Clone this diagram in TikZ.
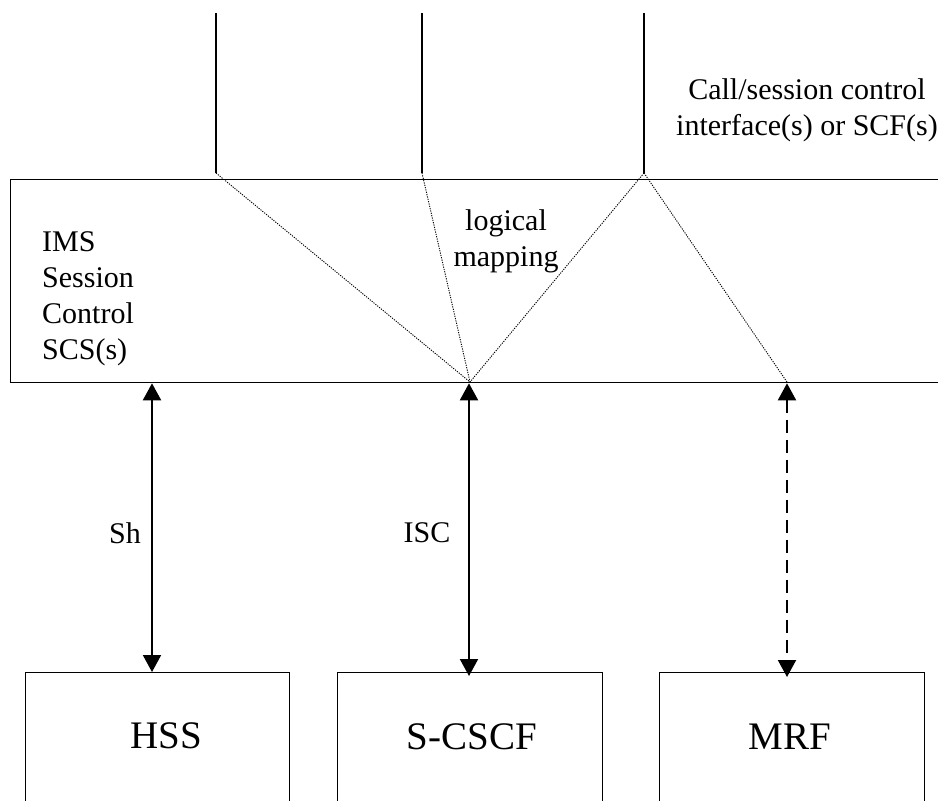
\documentclass[tikz,border=0pt]{standalone}
\usepackage{fontspec}
\setmainfont{Liberation Serif}
\usetikzlibrary{arrows.meta}
\begin{document}
\begin{tikzpicture}[x=1pt,y=-1pt,
  frame/.style={draw, line width=1.3pt, inner sep=0pt},
  txt/.style={inner sep=0pt, font=\fontsize{30}{36}\selectfont},
  bigtxt/.style={inner sep=0pt, font=\fontsize{39}{44}\selectfont},
  vline/.style={line width=1.5pt},
  mapline/.style={line width=0.9pt, dash pattern=on 1.2pt off 1.2pt},
  arr/.style={line width=2pt, {Triangle[length=17pt,width=18pt]}-{Triangle[length=17pt,width=18pt]}},
  darr/.style={arr, dash pattern=on 13pt off 7pt}]
\useasboundingbox (0,0) rectangle (938,801);
\clip (0,0) rectangle (938,801);

% main IMS box (extends past right edge)
\node[frame, anchor=north west, minimum width=960pt, minimum height=203pt] (scs) at (10,179) {};
\node[txt, anchor=west, align=left] (scstxt) at (42,299) {IMS\\Session\\Control\\SCS(s)};
\node[txt, align=center] (maptxt) at (506,241) {logical\\mapping};
\node[txt, align=center] (cstxt) at (807,110) {Call/session control\\interface(s) or SCF(s)};

% bottom boxes (extend past bottom edge)
\node[frame, anchor=north west, minimum width=264pt, minimum height=200pt] (hss) at (25,672) {};
\node[frame, anchor=north west, minimum width=265pt, minimum height=200pt] (scscf) at (337,672) {};
\node[frame, anchor=north west, minimum width=265pt, minimum height=200pt] (mrf) at (659,672) {};
\node[bigtxt] (hsstxt) at (166,736) {HSS};
\node[bigtxt] (scscftxt) at (472,737) {S-CSCF};
\node[bigtxt] (mrftxt) at (790,737) {MRF};

% top interface lines
\coordinate (t1a) at (216,13); \coordinate (t1b) at (216,173);
\coordinate (t2a) at (422,13); \coordinate (t2b) at (422,173);
\coordinate (t3a) at (644,13); \coordinate (t3b) at (644,173);
\draw[vline] (t1a) -- (t1b);
\draw[vline] (t2a) -- (t2b);
\draw[vline] (t3a) -- (t3b);

% logical mapping lines
\coordinate (m1) at (470,382);
\coordinate (m2) at (787,382);
\draw[mapline] (t1b) -- (m1);
\draw[mapline] (t2b) -- (m1);
\draw[mapline] (t3b) -- (m1);
\draw[mapline] (t3b) -- (m2);

% interfaces
\coordinate (shx) at (152,0);
\coordinate (iscx) at (469,0);
\coordinate (mrfx) at (787,0);
\draw[arr] (scs.south -| shx) -- (hss.north -| shx);
\draw[arr] (scs.south -| iscx) -- ([yshift=-4pt]scscf.north -| iscx);
\draw[darr] (scs.south -| mrfx) -- ([yshift=-5pt]mrf.north -| mrfx);
\node[txt] (sh) at (125,533) {Sh};
\node[txt] (isc) at (427,533) {ISC};
\end{tikzpicture}
\end{document}
